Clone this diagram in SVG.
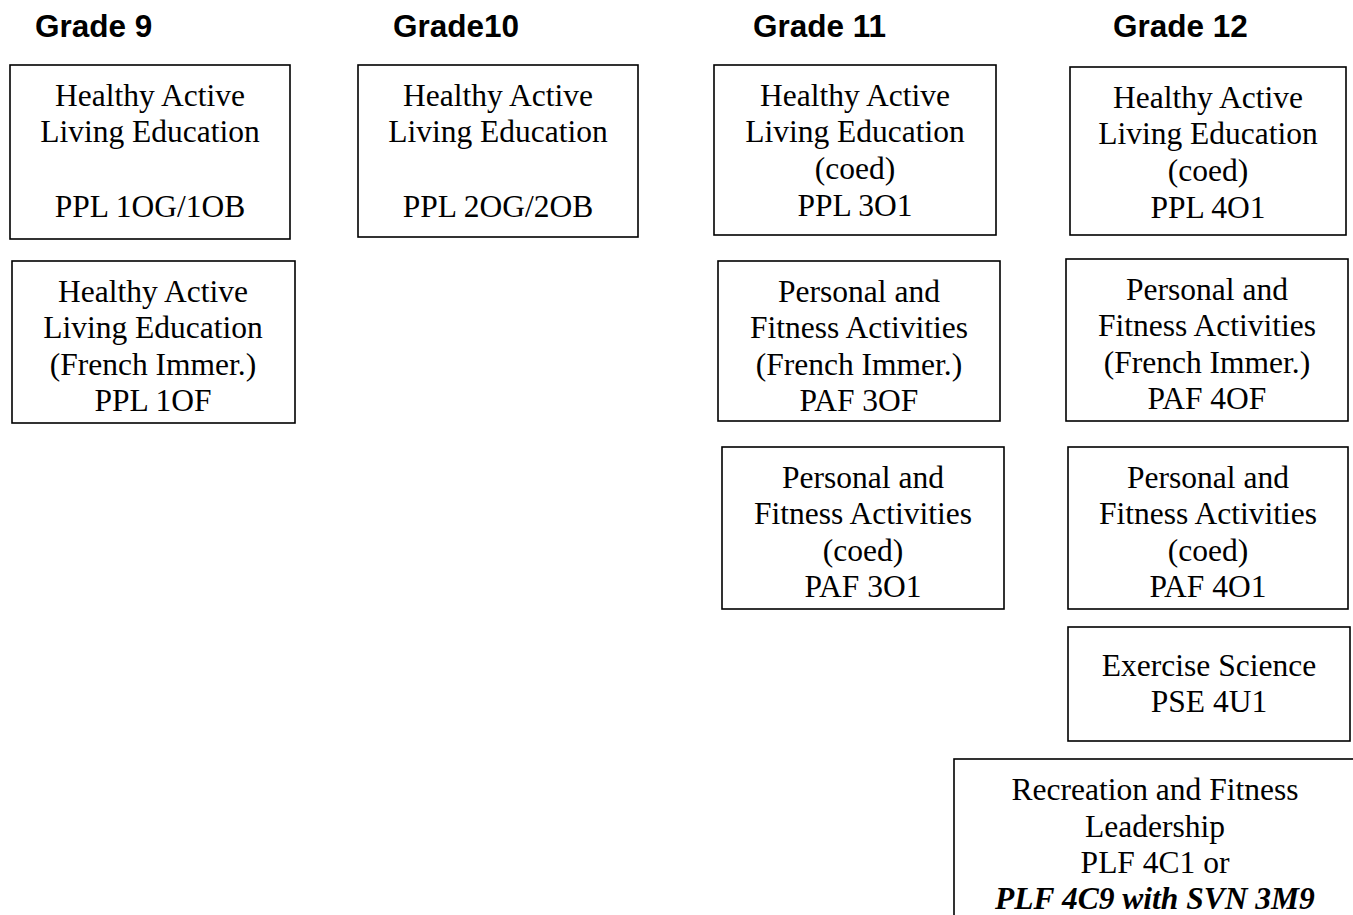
<svg xmlns="http://www.w3.org/2000/svg" width="1353" height="915" viewBox="0 0 1353 915">
  <style>
    .hdr { font-family: "Liberation Sans", Arial, sans-serif; font-weight: bold; font-size: 31.5px; fill: #000; }
    .box { fill: #fff; stroke: #000; stroke-width: 1.6; }
    .lbl { font-family: "Liberation Serif", "Times New Roman", serif; font-size: 31.5px; fill: #000; text-anchor: middle; }
    .em { font-weight: bold; font-style: italic; }
  </style>
  <rect width="1353" height="915" fill="#fff"/>

  <!-- column headings -->
  <g id="headings">
    <text class="hdr" x="35" y="37">Grade 9</text>
    <text class="hdr" x="393" y="37">Grade10</text>
    <text class="hdr" x="753" y="37">Grade 11</text>
    <text class="hdr" x="1113" y="37">Grade 12</text>
  </g>

  <!-- no links between courses -->
  <g id="connectors"></g>

  <!-- Grade 9 -->
  <g id="ppl1og">
    <rect class="box" x="10" y="65" width="280" height="174"/>
    <text class="lbl" x="150" y="106">Healthy Active</text>
    <text class="lbl" x="150" y="142">Living Education</text>
    <text class="lbl" x="150" y="217">PPL 1OG/1OB</text>
  </g>
  <g id="ppl1of">
    <rect class="box" x="12" y="261" width="283" height="162"/>
    <text class="lbl" x="153" y="302">Healthy Active</text>
    <text class="lbl" x="153" y="338">Living Education</text>
    <text class="lbl" x="153" y="375">(French Immer.)</text>
    <text class="lbl" x="153" y="411">PPL 1OF</text>
  </g>

  <!-- Grade 10 -->
  <g id="ppl2og">
    <rect class="box" x="358" y="65" width="280" height="172"/>
    <text class="lbl" x="498" y="106">Healthy Active</text>
    <text class="lbl" x="498" y="142">Living Education</text>
    <text class="lbl" x="498" y="217">PPL 2OG/2OB</text>
  </g>

  <!-- Grade 11 -->
  <g id="ppl3o1">
    <rect class="box" x="714" y="65" width="282" height="170"/>
    <text class="lbl" x="855" y="106">Healthy Active</text>
    <text class="lbl" x="855" y="142">Living Education</text>
    <text class="lbl" x="855" y="179">(coed)</text>
    <text class="lbl" x="855" y="216">PPL 3O1</text>
  </g>
  <g id="paf3of">
    <rect class="box" x="718" y="261" width="282" height="160"/>
    <text class="lbl" x="859" y="302">Personal and</text>
    <text class="lbl" x="859" y="338">Fitness Activities</text>
    <text class="lbl" x="859" y="375">(French Immer.)</text>
    <text class="lbl" x="859" y="411">PAF 3OF</text>
  </g>
  <g id="paf3o1">
    <rect class="box" x="722" y="447" width="282" height="162"/>
    <text class="lbl" x="863" y="488">Personal and</text>
    <text class="lbl" x="863" y="524">Fitness Activities</text>
    <text class="lbl" x="863" y="561">(coed)</text>
    <text class="lbl" x="863" y="597">PAF 3O1</text>
  </g>

  <!-- Grade 12 -->
  <g id="ppl4o1">
    <rect class="box" x="1070" y="67" width="276" height="168"/>
    <text class="lbl" x="1208" y="108">Healthy Active</text>
    <text class="lbl" x="1208" y="144">Living Education</text>
    <text class="lbl" x="1208" y="181">(coed)</text>
    <text class="lbl" x="1208" y="218">PPL 4O1</text>
  </g>
  <g id="paf4of">
    <rect class="box" x="1066" y="259" width="282" height="162"/>
    <text class="lbl" x="1207" y="300">Personal and</text>
    <text class="lbl" x="1207" y="336">Fitness Activities</text>
    <text class="lbl" x="1207" y="373">(French Immer.)</text>
    <text class="lbl" x="1207" y="409">PAF 4OF</text>
  </g>
  <g id="paf4o1">
    <rect class="box" x="1068" y="447" width="280" height="162"/>
    <text class="lbl" x="1208" y="488">Personal and</text>
    <text class="lbl" x="1208" y="524">Fitness Activities</text>
    <text class="lbl" x="1208" y="561">(coed)</text>
    <text class="lbl" x="1208" y="597">PAF 4O1</text>
  </g>
  <g id="pse4u1">
    <rect class="box" x="1068" y="627" width="282" height="114"/>
    <text class="lbl" x="1209" y="676">Exercise Science</text>
    <text class="lbl" x="1209" y="712">PSE 4U1</text>
  </g>
  <g id="plf4c1">
    <rect class="box" x="954" y="759" width="402" height="170"/>
    <text class="lbl" x="1155" y="800">Recreation and Fitness</text>
    <text class="lbl" x="1155" y="837">Leadership</text>
    <text class="lbl" x="1155" y="873">PLF 4C1 or</text>
    <text class="lbl em" x="1155" y="909">PLF 4C9 with SVN 3M9</text>
  </g>
</svg>
